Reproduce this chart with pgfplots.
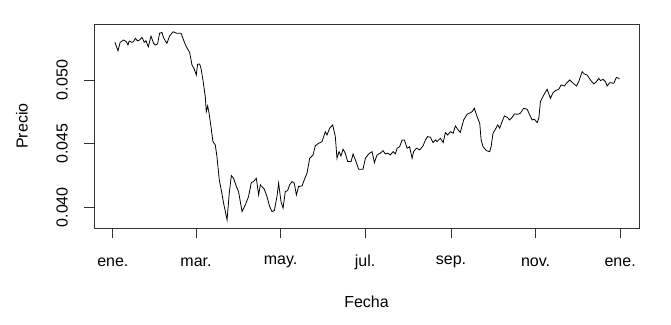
\documentclass[border=0pt]{standalone}
\usepackage{pgfplots}
\pgfplotsset{compat=1.18}
\usepackage{fontspec}
\setmainfont{Liberation Sans}
\begin{document}
\begin{tikzpicture}
\begin{axis}[
  name=ax,
  scale only axis,
  width=545pt, height=204pt,
  xmin=-13.6, xmax=379.6,
  ymin=0.03837, ymax=0.05440,
  axis line style={black!80, line width=0.9pt},
  xtick={0,60,121,182,244,305,366},
  xticklabels={ene.,mar.,may.,jul.,sep.,nov.,ene.},
  ytick={0.040,0.045,0.050},
  scaled y ticks=false,
  yticklabel style={rotate=90, anchor=center, yshift=22pt, /pgf/number format/.cd, fixed, precision=3, fixed zerofill},
  /pgf/number format/assume math mode=true,
  xtick pos=bottom, ytick pos=left,
  tick align=outside,
  major tick length=10pt,
  tick style={black!80, line width=0.9pt},
  xticklabel style={anchor=center, yshift=-24pt},
  font=\fontsize{16}{18}\selectfont,
  xlabel={Fecha},
  ylabel={Precio},
  xlabel style={at={(axis description cs:0.5,0)}, anchor=center, yshift=-74pt},
  ylabel style={at={(axis description cs:0,0.5)}, anchor=center, yshift=72pt},
]
\addplot[black, line width=0.8pt] coordinates {
(1.5,0.05296) (3.7,0.05230) (5.3,0.05296) (7.7,0.05314) (9.7,0.05301) (10.9,0.05275) (11.8,0.05306) (13.8,0.05296) (14.9,0.05301) (16.2,0.05327)
(17.8,0.05308) (19.3,0.05314) (21.0,0.05335) (22.7,0.05296) (23.9,0.05308) (25.6,0.05261) (27.5,0.05345) (29.4,0.05288) (30.6,0.05275) (32.3,0.05283)
(33.7,0.05367) (35.4,0.05374) (36.6,0.05332) (37.8,0.05308) (39.0,0.05288) (40.9,0.05345) (43.4,0.05379) (46.3,0.05367) (49.2,0.05367) (51.0,0.05314)
(53.0,0.05261) (55.4,0.05217) (57.1,0.05118) (58.8,0.05084) (60.2,0.05039) (61.1,0.05123) (62.6,0.05126) (63.6,0.05092) (65.0,0.05000) (66.7,0.04869)
(67.4,0.04751) (68.4,0.04796) (69.4,0.04739) (70.8,0.04633) (72.2,0.04516) (73.9,0.04490) (75.1,0.04398) (76.8,0.04215) (78.2,0.04137) (79.9,0.04032)
(82.4,0.03901) (84.0,0.04111) (85.5,0.04249) (87.1,0.04228) (89.1,0.04163) (90.7,0.04123) (93.2,0.03966) (95.6,0.04019) (97.9,0.04084) (99.9,0.04194)
(101.6,0.04202) (103.5,0.04228) (105.2,0.04097) (106.4,0.04176) (109.3,0.04142) (111.2,0.04084) (113.1,0.04006) (114.8,0.03966) (116.5,0.03974) (118.4,0.04084)
(119.6,0.04189) (121.3,0.04045) (122.8,0.03993) (124.4,0.04123) (126.1,0.04131) (127.5,0.04176) (129.3,0.04202) (130.9,0.04189) (132.4,0.04097) (134.0,0.04163)
(136.5,0.04168) (138.1,0.04215) (140.1,0.04268) (142.0,0.04385) (144.4,0.04411) (146.1,0.04484) (148.5,0.04503) (150.9,0.04516) (153.3,0.04594) (154.5,0.04568)
(156.4,0.04621) (158.6,0.04647) (160.5,0.04555) (161.7,0.04385) (163.2,0.04437) (164.6,0.04403) (166.1,0.04456) (167.7,0.04425) (169.4,0.04359) (171.9,0.04359)
(173.3,0.04419) (175.0,0.04372) (177.3,0.04299) (180.5,0.04299) (182.2,0.04385) (184.6,0.04419) (187.0,0.04437) (188.7,0.04351) (190.6,0.04411) (193.0,0.04425)
(194.9,0.04445) (196.6,0.04419) (198.3,0.04425) (200.2,0.04411) (202.2,0.04437) (203.8,0.04419) (205.1,0.04464) (206.9,0.04476) (208.7,0.04529) (210.3,0.04529)
(212.3,0.04464) (214.1,0.04476) (215.9,0.04385) (217.0,0.04437) (219.0,0.04464) (221.4,0.04451) (223.8,0.04482) (225.5,0.04529) (227.1,0.04555) (229.1,0.04550)
(231.0,0.04508) (232.7,0.04529) (233.9,0.04516) (236.3,0.04542) (238.3,0.04508) (239.9,0.04586) (241.6,0.04568) (243.5,0.04594) (245.5,0.04582) (247.1,0.04639)
(249.5,0.04602) (250.7,0.04589) (253.1,0.04686) (255.6,0.04731) (258.0,0.04743) (259.2,0.04751) (260.8,0.04778) (262.8,0.04712) (264.7,0.04660) (265.7,0.04529)
(267.1,0.04476) (269.5,0.04445) (271.9,0.04437) (272.9,0.04476) (274.3,0.04582) (276.0,0.04613) (277.7,0.04647) (279.1,0.04621) (280.8,0.04673) (282.5,0.04717)
(284.5,0.04707) (286.3,0.04686) (288.1,0.04707) (289.7,0.04733) (292.1,0.04731) (294.0,0.04739) (296.4,0.04778) (298.9,0.04770) (300.8,0.04725) (302.5,0.04686)
(304.1,0.04692) (306.1,0.04665) (307.3,0.04699) (308.5,0.04830) (310.9,0.04882) (313.3,0.04927) (315.7,0.04856) (317.6,0.04900) (319.3,0.04916) (321.7,0.04927)
(323.4,0.04961) (325.8,0.04953) (327.2,0.04974) (329.6,0.05000) (332.1,0.04974) (334.5,0.04953) (336.1,0.04987) (338.6,0.05065) (340.2,0.05047) (342.2,0.05039)
(344.6,0.05000) (347.0,0.04969) (348.9,0.04987) (350.6,0.05013) (351.8,0.04995) (353.7,0.05005) (355.4,0.04987) (356.6,0.04953) (358.5,0.04979) (361.4,0.04974)
(363.3,0.05021) (365.5,0.05010)
};
\end{axis}
\pgfresetboundingbox
\path[use as bounding box] ([xshift=-94pt,yshift=-96pt]ax.south west) rectangle ([xshift=32pt,yshift=24pt]ax.north east);
\end{tikzpicture}
\end{document}
